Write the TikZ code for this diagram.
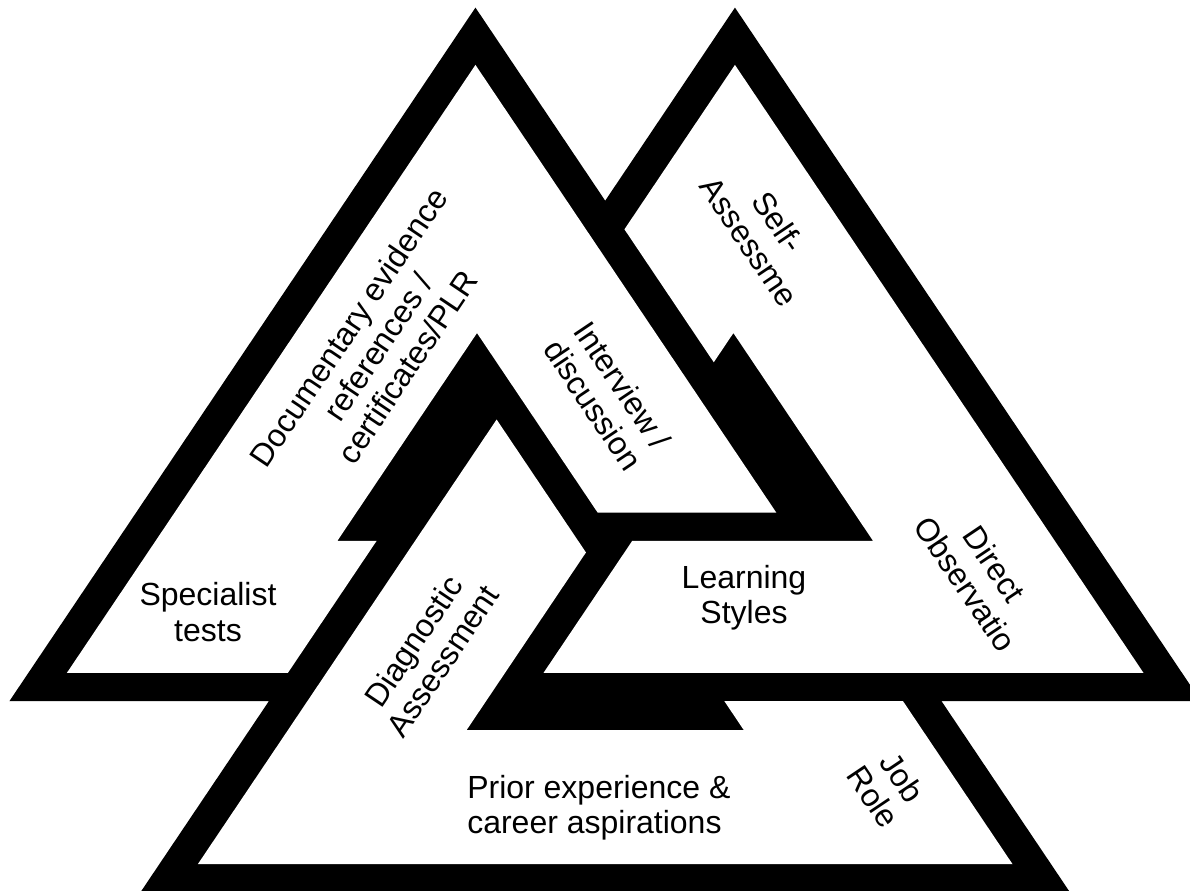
\documentclass[tikz,border=0pt]{standalone}
\usepackage{fontspec}
\setmainfont{Liberation Sans}
\begin{document}
\begin{tikzpicture}[x=0.75pt,y=-0.75pt,
  lbl/.style={inner sep=0pt,align=center,font=\fontsize{24}{26.5}\selectfont},
  up/.style={lbl,rotate=56.1},
  down/.style={lbl,rotate=-56.1}]
% Three line families, offsets measured in band widths from the centre.
% L: x + k y = c   (rising sides)   R: x - k y = d   (falling sides)   H: y = h
\def\kk{0.672}
\def\Lv#1{(964.9-38.5*(#1))}
\def\Rv#1{(245.5+38.5*(#1))}
\def\Hv#1{(535.3+28.4*(#1))}
\newcommand\ptLR[3]{\coordinate (#1) at ({(\Lv{#2}+\Rv{#3})/2},{(\Lv{#2}-\Rv{#3})/(2*\kk)});}
\newcommand\ptLH[3]{\coordinate (#1) at ({\Lv{#2}-\kk*\Hv{#3}},{\Hv{#3}});}
\newcommand\ptRH[3]{\coordinate (#1) at ({\Rv{#2}+\kk*\Hv{#3}},{\Hv{#3}});}

\useasboundingbox (0,0) rectangle (1190,890);
\clip (0,0) rectangle (1190,890);

% outer outline of the knot
\ptLR{Aapex}{12.58}{5.84}
\ptLH{Abl}{12.58}{5.84}
\ptLH{Bfoot}{5.84}{5.84}
\ptLH{Dbl}{5.84}{12.58}
\ptRH{Dbr}{5.84}{12.58}
\ptRH{Afoot}{5.84}{5.84}
\ptRH{Bbr}{12.58}{5.84}
\ptLR{Bapex}{5.84}{12.58}
\ptLR{Dapex}{5.84}{5.84}
\fill[black] (Aapex) -- (Abl) -- (Bfoot) -- (Dbl) -- (Dbr) -- (Afoot)
  -- (Bbr) -- (Bapex) -- (Dapex) -- cycle;

% right hole
\ptLH{r1}{-0.8}{0.2}
\ptRH{r2}{6.86}{0.2}
\ptLR{r3}{0.2}{6.86}
\ptLR{r4}{0.2}{5.84}
\ptLR{r5}{4.84}{5.84}
\ptLR{r6}{4.84}{11.58}
\ptRH{r7}{11.58}{4.84}
\ptLH{r8}{-0.8}{4.84}
\fill[white] (r1) -- (r2) -- (r3) -- (r4) -- (r5) -- (r6) -- (r7) -- (r8) -- cycle;

% bottom hole
\ptLR{b1}{0.2}{-0.8}
\ptLH{b2}{0.2}{6.86}
\ptRH{b3}{0.2}{6.86}
\ptRH{b4}{0.2}{5.84}
\ptRH{b5}{4.84}{5.84}
\ptRH{b6}{4.84}{11.58}
\ptLH{b7}{4.84}{11.58}
\ptLR{b8}{4.84}{-0.8}
\fill[white] (b1) -- (b2) -- (b3) -- (b4) -- (b5) -- (b6) -- (b7) -- (b8) -- cycle;

% left hole
\ptRH{l1}{0.2}{-0.8}
\ptLR{l2}{6.86}{0.2}
\ptLH{l3}{6.86}{0.2}
\ptLH{l4}{5.84}{0.2}
\ptLH{l5}{5.84}{4.84}
\ptLH{l6}{11.58}{4.84}
\ptLR{l7}{11.58}{4.84}
\ptRH{l8}{4.84}{-0.8}
\fill[white] (l1) -- (l2) -- (l3) -- (l4) -- (l5) -- (l6) -- (l7) -- (l8) -- cycle;

% labels
\node[up]   (doc)    at (378,347) {Documentary evidence\\references /\\certificates/PLR};
\node[down] (interv) at (608,395) {Interview /\\discussion};
\node[down] (self)   at (764,232) {Self-\\Assessme};
\node[down] (direct) at (980,574) {Direct\\Observatio};
\node[down] (job)    at (888,787) {Job\\Role};
\node[up]   (diag)   at (428,651) {Diagnostic\\Assessment};
\node[lbl]  (spec)   at (208,612) {Specialist\\tests};
\node[lbl]  (learn)  at (744,598) {Learning\\Styles};
\node[lbl,align=left,anchor=west] (prior) at (467,808) {Prior experience \&\\career aspirations};
\end{tikzpicture}
\end{document}
